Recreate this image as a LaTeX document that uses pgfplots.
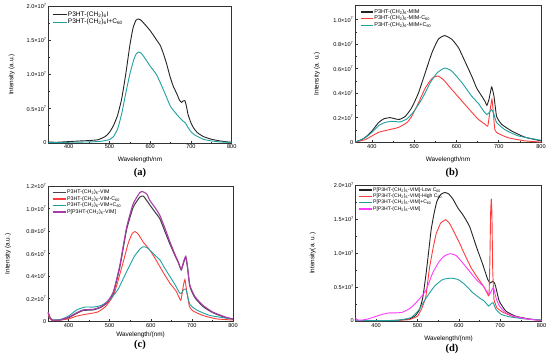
\documentclass[border=0pt]{standalone}
\usepackage{pgfplots}
\pgfplotsset{compat=1.18}
\usepackage{fontspec}
\setmainfont{Liberation Sans}
\newfontfamily\capfont{Liberation Serif}

\definecolor{cteal}{RGB}{32,160,160}
\definecolor{cred}{RGB}{255,60,60}
\definecolor{cpurp}{RGB}{170,60,170}
\definecolor{cmag}{RGB}{255,60,255}
\definecolor{cblk}{RGB}{35,35,35}
\definecolor{cgry}{RGB}{70,70,70}

\newcommand\ee[1]{#1×10\textsuperscript{7}}

\pgfplotsset{
  panel/.style={
    scale only axis,
    anchor=south west,
    xmax=800,
    xtick={400,500,600,700,800},
    minor x tick num=1,
    minor y tick num=1,
    tick align=inside,
    tick pos=left,
    major tick length=2.5pt,
    minor tick length=1.5pt,
    axis line style={line width=0.7pt, black!80},
    every tick/.style={line width=0.5pt, black!80},
    /pgf/number format/assume math mode=true,
    tick label style={font=\fontsize{5.6}{6}\selectfont, inner sep=1.5pt},
    label style={font=\fontsize{6.4}{7}\selectfont},
    xlabel style={at={(axis description cs:0.5,-0.124)}, anchor=center},
    every axis plot/.append style={line width=0.9pt, mark=none, smooth, tension=0.3},
    legend cell align=left,
    legend style={draw=none, fill=none, inner sep=0pt, row sep=0pt, anchor=north west,
      nodes={inner sep=0.6pt}},
    legend image code/.code={\draw[#1, line width=1.1pt] (0pt,0pt) -- (12.5pt,0pt);},
  }
}

\begin{document}
\begin{tikzpicture}
\useasboundingbox (0,0) rectangle (550pt,-359pt);

% ---------------- (a)
\begin{axis}[panel, at={(48.3pt,-143.3pt)}, width=183.4pt, height=137.3pt,
  xmin=350, ymin=-0.01, ymax=2.0,
  ytick={0,0.5,1,1.5,2}, yticklabels={0,\ee{0.5},\ee{1.0},\ee{1.5},\ee{2.0}},
  xlabel={Wavelength/nm}, ylabel={Intensity (a.u.)},
  ylabel style={at={(axis description cs:-0.2,0.5)}, anchor=center},
  legend style={at={(axis description cs:0.02,0.965)}, font=\fontsize{6.6}{7}\selectfont},
  legend image code/.code={\draw[#1, line width=1.1pt] (0pt,0pt) -- (14pt,0pt);}]
\addplot[cblk] coordinates {(350,0.01)(370,0.005)(400,0.015)(430,0.025)(450,0.03)(470,0.04)(480,0.06)(490,0.09)(500,0.15)(510,0.25)(520,0.40)(530,0.64)(540,1.0)(550,1.42)(558,1.68)(565,1.79)(571,1.81)(578,1.79)(590,1.71)(600,1.64)(616,1.50)(625,1.42)(632,1.31)(640,1.16)(649,0.96)(657,0.82)(665,0.72)(672,0.62)(677,0.59)(681,0.61)(685,0.615)(689,0.53)(693,0.41)(700,0.29)(706,0.22)(715,0.15)(730,0.09)(750,0.05)(771,0.025)(790,0.01)(800,0.005)};
\addlegendentry{P3HT-(CH\textsubscript{2})\textsubscript{6}I}
\addplot[cteal] coordinates {(350,0.0)(380,0.0)(400,0.005)(450,0.01)(480,0.02)(500,0.045)(510,0.09)(520,0.2)(530,0.42)(540,0.72)(550,1.0)(560,1.22)(566,1.30)(571,1.325)(578,1.31)(590,1.21)(600,1.12)(616,0.99)(632,0.78)(649,0.54)(660,0.45)(670,0.38)(680,0.32)(686,0.29)(692,0.23)(700,0.16)(710,0.11)(730,0.05)(750,0.025)(771,0.01)(800,0.003)};
\addlegendentry{P3HT-(CH\textsubscript{2})\textsubscript{6}I+C\textsubscript{60}}
\end{axis}

% ---------------- (b)
\begin{axis}[panel, at={(355pt,-142.7pt)}, width=186pt, height=137.7pt,
  xmin=360, ymin=-0.005, ymax=1.12,
  ytick={0,0.2,0.4,0.6,0.8,1.0}, yticklabels={0,\ee{0.2},\ee{0.4},\ee{0.6},\ee{0.8},\ee{1.0}},
  xlabel={Wavelength/nm}, ylabel={Intensity (a. u.)},
  ylabel style={at={(axis description cs:-0.205,0.5)}, anchor=center},
  legend style={at={(axis description cs:0.027,0.975)}, font=\fontsize{5.5}{6}\selectfont}]
\addplot[cblk] coordinates {(360,0.0)(376,0.02)(390,0.055)(400,0.09)(416,0.16)(428,0.19)(443,0.20)(455,0.19)(465,0.185)(479,0.21)(494,0.28)(510,0.40)(526,0.565)(542,0.73)(557,0.84)(572,0.87)(589,0.84)(605,0.77)(620,0.66)(636,0.54)(648,0.44)(660,0.375)(668,0.33)(672,0.30)(677,0.35)(683,0.45)(686,0.42)(689,0.37)(695,0.21)(707,0.145)(731,0.09)(762,0.04)(800,0.01)};
\addlegendentry{P3HT-(CH\textsubscript{2})\textsubscript{6}-MIM}
\addplot[cred] coordinates {(360,0)(384,0.02)(400,0.05)(416,0.08)(439,0.10)(463,0.12)(483,0.16)(494,0.21)(510,0.32)(526,0.44)(542,0.52)(556,0.54)(569,0.51)(589,0.43)(613,0.335)(636,0.245)(652,0.185)(668,0.145)(674,0.13)(680,0.27)(684,0.35)(687,0.25)(691,0.10)(699,0.07)(723,0.035)(762,0.01)(800,0.0)};
\addlegendentry{P3HT-(CH\textsubscript{2})\textsubscript{6}-MIM-C\textsubscript{60}}
\addplot[cteal] coordinates {(360,0)(384,0.035)(400,0.08)(416,0.135)(431,0.16)(447,0.17)(467,0.165)(483,0.19)(498,0.245)(518,0.35)(538,0.485)(554,0.565)(572,0.605)(589,0.58)(613,0.485)(636,0.375)(652,0.315)(665,0.25)(672,0.225)(677,0.24)(683,0.265)(686,0.25)(689,0.225)(695,0.16)(715,0.10)(747,0.05)(800,0.015)};
\addlegendentry{P3HT-(CH\textsubscript{2})\textsubscript{6}-MIM+C\textsubscript{60}}
\end{axis}

% ---------------- (c)
\begin{axis}[panel, at={(48pt,-321.7pt)}, width=185pt, height=135.7pt,
  xmin=350, ymin=-0.005, ymax=1.2,
  ytick={0,0.2,0.4,0.6,0.8,1.0,1.2}, yticklabels={0,\ee{0.2},\ee{0.4},\ee{0.6},\ee{0.8},\ee{1.0},\ee{1.2}},
  xlabel={Wavelength/(nm)}, ylabel={Intensity (a.u.)},
  xlabel style={at={(axis description cs:0.5,-0.1)}},
  ylabel style={at={(axis description cs:-0.216,0.5)}, anchor=center},
  legend style={at={(axis description cs:0.02,0.978)}, font=\fontsize{5.3}{5.6}\selectfont},
  legend image code/.code={\draw[#1, line width=1.6pt] (0pt,0pt) -- (13pt,0pt);}]
\addplot[cgry, line width=1.1pt] coordinates {(350,0.08)(355,0.03)(360,0.01)(380,0.01)(400,0.03)(420,0.07)(436,0.095)(460,0.10)(477,0.12)(493,0.16)(509,0.25)(525,0.485)(541,0.81)(557,1.01)(573,1.10)(582,1.11)(598,1.03)(610,0.97)(622,0.91)(634,0.80)(646,0.69)(658,0.59)(667,0.52)(674,0.455)(680,0.52)(685,0.57)(689,0.49)(695,0.31)(707,0.21)(727,0.13)(751,0.075)(783,0.03)(800,0.018)};
\addlegendentry{P3HT-(CH\textsubscript{2})\textsubscript{6}-VIM}
\addplot[cred] coordinates {(350,0.06)(355,0.02)(360,0.005)(380,0.01)(400,0.02)(420,0.045)(440,0.06)(470,0.08)(490,0.13)(510,0.235)(530,0.485)(545,0.69)(555,0.78)(562,0.795)(570,0.77)(582,0.70)(598,0.63)(610,0.56)(622,0.485)(634,0.41)(646,0.34)(662,0.265)(673,0.185)(679,0.31)(683,0.37)(687,0.28)(694,0.13)(703,0.09)(727,0.05)(760,0.02)(800,0.01)};
\addlegendentry{P3HT-(CH\textsubscript{2})\textsubscript{6}-VIM-C\textsubscript{60}}
\addplot[cteal] coordinates {(350,0.08)(355,0.03)(362,0.01)(380,0.015)(400,0.045)(420,0.10)(440,0.125)(460,0.125)(480,0.14)(500,0.19)(520,0.28)(540,0.43)(560,0.575)(575,0.645)(581,0.66)(590,0.655)(598,0.63)(610,0.585)(622,0.545)(634,0.47)(646,0.40)(658,0.33)(670,0.25)(674,0.245)(680,0.28)(685,0.285)(689,0.235)(695,0.15)(711,0.10)(744,0.05)(800,0.018)};
\addlegendentry{P3HT-(CH\textsubscript{2})\textsubscript{6}-VIM+C\textsubscript{60}}
\addplot[cpurp, line width=1.1pt] coordinates {(350,0.08)(355,0.03)(360,0.01)(380,0.01)(400,0.035)(420,0.075)(436,0.10)(460,0.105)(477,0.125)(493,0.165)(509,0.26)(525,0.50)(541,0.83)(557,1.04)(573,1.14)(580,1.15)(590,1.13)(598,1.07)(610,1.01)(622,0.94)(634,0.83)(646,0.71)(658,0.60)(667,0.525)(674,0.46)(680,0.53)(685,0.575)(689,0.49)(695,0.32)(707,0.22)(727,0.14)(751,0.08)(783,0.035)(800,0.02)};
\addlegendentry{P[P3HT-(CH\textsubscript{2})\textsubscript{6}-VIM]}
\end{axis}

% ---------------- (d)
\begin{axis}[panel, at={(355.5pt,-321.7pt)}, width=186pt, height=136.7pt,
  xmin=350, ymin=-0.01, ymax=2.0,
  ytick={0,0.5,1,1.5,2}, yticklabels={0,\ee{0.5},\ee{1.0},\ee{1.5},\ee{2.0}},
  xlabel={Wavelength/(nm)}, ylabel={Intensity(a. u.)},
  xlabel style={at={(axis description cs:0.5,-0.125)}},
  ylabel style={at={(axis description cs:-0.23,0.5)}, anchor=center},
  legend style={at={(axis description cs:0.013,0.989)}, font=\fontsize{5.1}{5.5}\selectfont},
  legend image code/.code={\draw[#1, line width=1.4pt] (0pt,0pt) -- (13pt,0pt);}]
\addplot[cblk] coordinates {(350,0.01)(380,0.005)(420,0.005)(450,0.01)(480,0.03)(495,0.08)(505,0.17)(513,0.35)(521,0.71)(527,1.02)(533,1.34)(540,1.58)(547,1.76)(556,1.86)(566,1.89)(575,1.87)(585,1.80)(598,1.66)(610,1.56)(626,1.39)(642,1.10)(658,0.83)(670,0.61)(676,0.56)(682,0.585)(686,0.56)(689,0.51)(698,0.29)(714,0.146)(738,0.07)(771,0.03)(800,0.01)};
\addlegendentry{P[P3HT-(CH\textsubscript{2})\textsubscript{6}-VIM]-Low C\textsubscript{60}}
\addplot[cred, tension=0.15] coordinates {(350,0.005)(400,0.005)(450,0.01)(480,0.02)(500,0.07)(510,0.18)(520,0.35)(529,0.78)(537,1.05)(545,1.28)(556,1.44)(568,1.49)(577,1.44)(586,1.34)(600,1.17)(614,0.98)(630,0.78)(646,0.63)(662,0.49)(670,0.39)(673,0.37)(675,0.85)(677,1.6)(678.5,1.80)(680,1.6)(682,0.75)(685,0.32)(692,0.195)(706,0.13)(730,0.07)(771,0.025)(800,0.01)};
\addlegendentry{P[P3HT-(CH\textsubscript{2})\textsubscript{6}-VIM]-High C\textsubscript{60}}
\addplot[cteal] coordinates {(350,0.01)(400,0.005)(450,0.01)(484,0.05)(504,0.17)(521,0.34)(541,0.51)(561,0.61)(581,0.63)(598,0.61)(614,0.54)(634,0.415)(650,0.34)(662,0.29)(672,0.22)(679,0.26)(683,0.27)(690,0.17)(702,0.10)(722,0.063)(755,0.034)(800,0.015)};
\addlegendentry{P[P3HT-(CH\textsubscript{2})\textsubscript{6}-VIM]+C\textsubscript{60}}
\addplot[cmag] coordinates {(350,0.05)(353,0.02)(360,0.01)(380,0.03)(400,0.07)(416,0.10)(432,0.12)(448,0.12)(464,0.13)(484,0.195)(504,0.32)(521,0.46)(537,0.71)(553,0.88)(566,0.96)(579,0.99)(594,0.96)(610,0.85)(626,0.73)(642,0.61)(658,0.52)(670,0.415)(674,0.39)(680,0.46)(684,0.49)(690,0.34)(698,0.22)(714,0.12)(738,0.063)(771,0.025)(800,0.01)};
\addlegendentry{P[P3HT-(CH\textsubscript{2})\textsubscript{6}-VIM]}
\end{axis}

\node[font=\capfont\bfseries\fontsize{10.5}{11}\selectfont] at (140pt,-173pt) {(a)};
\node[font=\capfont\bfseries\fontsize{10.5}{11}\selectfont] at (452pt,-173pt) {(b)};
\node[font=\capfont\bfseries\fontsize{10.5}{11}\selectfont] at (140pt,-345pt) {(c)};
\node[font=\capfont\bfseries\fontsize{10.5}{11}\selectfont] at (452pt,-349pt) {(d)};
\end{tikzpicture}
\end{document}
